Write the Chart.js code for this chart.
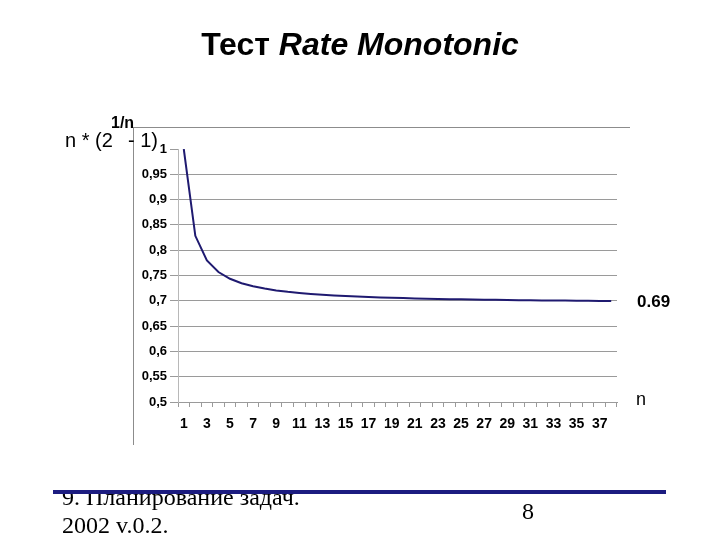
<!DOCTYPE html>
<html>
<head>
<meta charset="utf-8">
<script src="https://cdn.jsdelivr.net/npm/chart.js@4"></script>
<style>
  body { margin: 0; background: #fff; }
  #wrap { position: relative; width: 720px; height: 540px; overflow: hidden; }
  canvas { position: absolute; left: 0; top: 0; }
  .t { position: absolute; line-height: 1; white-space: nowrap; color: #000; }
  .sans { font-family: "Liberation Sans", Arial, sans-serif; }
  .serif { font-family: "Liberation Serif", "Times New Roman", serif; }
  .frame { position: absolute; background: #8c8c8c; }
</style>
</head>
<body>
<div id="wrap">
  <canvas id="rmChart" width="720" height="540"></canvas>

  <div class="frame" style="left:133px; top:127px; width:497px; height:1px;"></div>
  <div class="frame" style="left:133px; top:127px; width:1px; height:318px;"></div>

  <div class="t sans" style="left:0; width:720px; top:27.9px; text-align:center; font-size:32px; font-weight:bold;">Тест <i>Rate Monotonic</i></div>

  <div class="t sans" style="left:65px; top:130px; font-size:20px;">n * (2</div>
  <div class="t sans" style="left:111px; top:114.5px; font-size:16px; font-weight:bold;">1/n</div>
  <div class="t sans" style="left:128px; top:130px; font-size:20px;">- 1)</div>

  <div class="t sans" style="left:637px; top:293.1px; font-size:17px; font-weight:bold;">0.69</div>
  <div class="t sans" style="left:636px; top:390px; font-size:18px;">n</div>

  <div class="t serif" style="left:62px; top:484.9px; font-size:24px;">9. Планирование задач.</div>
  <div class="t serif" style="left:62px; top:512.9px; font-size:24px;">2002 v.0.2.</div>
  <div class="t serif" style="left:522px; top:498.9px; font-size:24px;">8</div>
  <div style="position:absolute; left:53px; top:490px; width:613px; height:4px; background:#1c1c80;"></div>
</div>

<script>
// Rate Monotonic utilisation bound n * (2^(1/n) - 1)

// task count n (category axis)
const taskCounts = [1, 2, 3, 4, 5, 6, 7, 8, 9, 10, 11, 12, 13, 14, 15, 16, 17, 18, 19,
  20, 21, 22, 23, 24, 25, 26, 27, 28, 29, 30, 31, 32, 33, 34, 35, 36, 37, 38];

// bound value for each n
const boundValues = [1.0000, 0.8284, 0.7798, 0.7568, 0.7435, 0.7348, 0.7286, 0.7241,
  0.7205, 0.7177, 0.7155, 0.7136, 0.7120, 0.7106, 0.7094, 0.7084, 0.7075, 0.7067,
  0.7059, 0.7053, 0.7047, 0.7042, 0.7037, 0.7033, 0.7029, 0.7025, 0.7022, 0.7019,
  0.7016, 0.7013, 0.7010, 0.7008, 0.7006, 0.7004, 0.7002, 0.7000, 0.6998, 0.6996];

// y axis range
const yMin = 0.5;
const yMax = 1;
const yStep = 0.05;

const gridGray = '#9a9a9a';
const fontFamily = '"Liberation Sans", Arial, sans-serif';

const ctx = document.getElementById('rmChart').getContext('2d');

new Chart(ctx, {
  type: 'line',
  data: {
    labels: taskCounts.map(String),
    datasets: [
      {
        data: boundValues,
        borderColor: '#1f1a70',
        borderWidth: 2,
        pointRadius: 0,
        fill: false,
        tension: 0
      }
    ]
  },
  options: {
    responsive: false,
    animation: false,
    devicePixelRatio: 1,
    layout: {
      padding: { left: 120, right: 103, top: 149, bottom: 108 }
    },
    plugins: {
      legend: { display: false },
      tooltip: { enabled: false }
    },
    scales: {
      x: {
        offset: true,
        grid: {
          offset: true,
          drawOnChartArea: false,
          drawTicks: true,
          tickLength: 5,
          color: gridGray
        },
        border: { color: gridGray },
        ticks: {
          autoSkip: false,
          maxRotation: 0,
          padding: 9,
          color: '#000',
          font: { family: fontFamily, size: 14, weight: 'bold' },
          callback: (value, index) => (index % 2 === 0 ? taskCounts[index] : '')
        },
        afterFit: (scale) => { scale.height = 30; }
      },
      y: {
        min: yMin,
        max: yMax,
        grid: {
          tickLength: 8,
          color: (c) => (c.tick && c.tick.value >= yMax - 1e-6 ? 'rgba(0,0,0,0)' : gridGray),
          tickColor: gridGray
        },
        border: { color: '#b8b8b8' },
        ticks: {
          stepSize: yStep,
          padding: 3,
          color: '#000',
          font: { family: fontFamily, size: 13, weight: 'bold' },
          callback: (value) => String(Number(value.toFixed(2))).replace('.', ',')
        },
        afterFit: (scale) => { scale.width = 58; }
      }
    }
  }
});
</script>
</body>
</html>
